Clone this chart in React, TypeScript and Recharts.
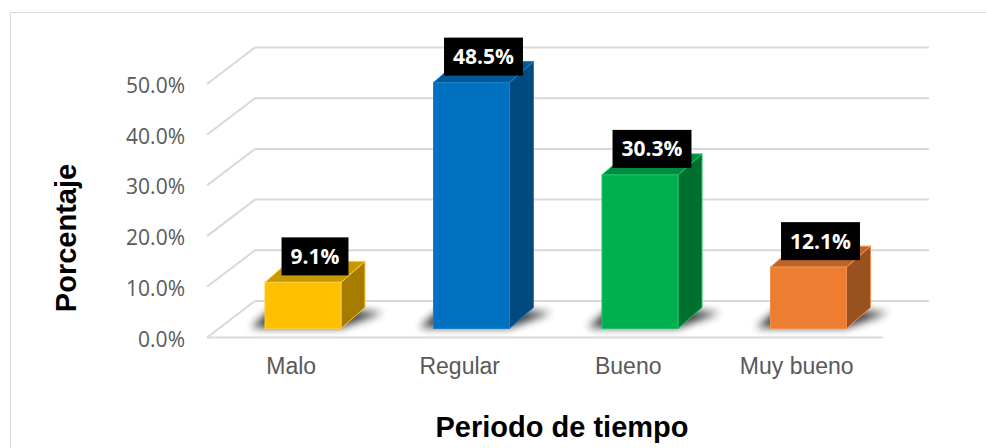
import { BarChart, Bar, XAxis, YAxis, CartesianGrid, LabelList, Customized } from 'recharts';

const categories = ['Malo', 'Regular', 'Bueno', 'Muy bueno'];
const porcentajes = [9.1, 48.5, 30.3, 12.1];
const yTicks = [0, 10, 20, 30, 40, 50];

const data = categories.map((c, i) => ({ periodo: c, valor: porcentajes[i] }));

// front / side / top shades per bar
const PALETTE = [
  { front: '#FFC000', side: '#A67C00', top: '#C99700', edge: '#FFCB33' },
  { front: '#0070C0', side: '#004A80', top: '#005A9A', edge: '#1A82CC' },
  { front: '#00B050', side: '#007030', top: '#008C40', edge: '#22C066' },
  { front: '#ED7D31', side: '#9A5120', top: '#BE6427', edge: '#F08F4E' },
];

const W = 986;
const H = 448;
const Y_AXIS_W = 40;
const X_AXIS_H = 40;
const MARGIN = { top: 75, right: 93, bottom: 119.5 - X_AXIS_H, left: 219 - Y_AXIS_W };
const PLOT_BOTTOM = H - 119.5;

// oblique offsets of the 3D box
const FRONT = { dx: -12, dy: 9 };
const BACK = { dx: 36, dy: -27.5 };
const DEPTH = { dx: 24, dy: 21 };

const measure = (txt: string, font: string) => {
  const ctx = document.createElement('canvas').getContext('2d');
  if (!ctx) return txt.length * 11;
  ctx.font = font;
  return ctx.measureText(txt).width;
};

const fmt = (v: number) => `${v.toFixed(1)}%`;

const GridLine3D = (props: any) => {
  const { x1, x2, y1 } = props;
  const fx = x1 + FRONT.dx;
  const fy = y1 + FRONT.dy;
  const bx = x1 + BACK.dx;
  const by = y1 + BACK.dy;
  const isFloor = Math.abs(y1 - PLOT_BOTTOM) < 1;
  return (
    <g key={props.key}>
      <polyline
        points={`${fx},${fy} ${bx},${by} ${x2 + BACK.dx},${by}`}
        fill="none"
        stroke="#D9D9D9"
        strokeWidth={2}
      />
      {isFloor && (
        <line x1={fx} y1={fy} x2={x2 - 10} y2={fy} stroke="#D9D9D9" strokeWidth={2} />
      )}
    </g>
  );
};

const Bar3D = (props: any) => {
  const { x, y, width: w, height: h, index } = props;
  const c = PALETTE[index % PALETTE.length];
  const base = y + h;
  const { dx, dy } = DEPTH;
  const shadow = `${x - 14},${base - 1} ${x + w},${base - 1} ${x + w + dx + 18},${base - dy + 5} ${x + dx - 14},${base - dy - 1}`;
  return (
    <g>
      <defs>
        <filter id={`blur-${index}`} x="-50%" y="-50%" width="200%" height="200%">
          <feGaussianBlur stdDeviation={4} />
        </filter>
      </defs>
      <polygon points={shadow} fill="#000" opacity={0.8} filter={`url(#blur-${index})`} />
      <polygon
        points={`${x + w},${y} ${x + w + dx},${y - dy} ${x + w + dx},${base - dy} ${x + w},${base}`}
        fill={c.side}
        stroke={c.edge}
        strokeWidth={1}
      />
      <polygon
        points={`${x},${y} ${x + dx},${y - dy} ${x + w + dx},${y - dy} ${x + w},${y}`}
        fill={c.top}
        stroke={c.edge}
        strokeWidth={1}
      />
      <rect x={x} y={y} width={w} height={h} fill={c.front} stroke={c.edge} strokeWidth={1} />
    </g>
  );
};

const ValueLabel = (props: any) => {
  const { x, y, width, value } = props;
  const txt = fmt(Number(value));
  const font = 'bold 21px "Open Sans"';
  const tw = measure(txt, font);
  const bw = tw + 18;
  const bh = 38;
  const cx = x + width / 2 + 12;
  const bottom = y - 7;
  return (
    <g>
      <rect x={cx - bw / 2} y={bottom - bh} width={bw} height={bh} fill="#000" />
      <text
        x={cx}
        y={bottom - bh / 2 + 7.5}
        textAnchor="middle"
        fill="#fff"
        fontFamily="Open Sans"
        fontWeight={700}
        fontSize={21}
      >
        {txt}
      </text>
    </g>
  );
};

const YTick = (props: any) => {
  const { y, payload } = props;
  return (
    <text x={185} y={y + 18} textAnchor="end" fill="#595959" fontFamily="Open Sans" fontSize={21}>
      {fmt(payload.value)}
    </text>
  );
};

const XTick = (props: any) => {
  const { x, payload } = props;
  return (
    <text
      x={x - 12}
      y={374}
      textAnchor="middle"
      fill="#595959"
      fontFamily="Liberation Sans, Arial, sans-serif"
      fontSize={23}
    >
      {payload.value}
    </text>
  );
};

const Titles = () => (
  <g fontFamily="Liberation Sans, Arial, sans-serif" fontWeight={700} fontSize={29} fill="#000">
    <text transform="translate(76, 238) rotate(-90)" textAnchor="middle">
      Porcentaje
    </text>
    <text x={562} y={437} textAnchor="middle">
      Periodo de tiempo
    </text>
  </g>
);

export default function App() {
  return (
    <div style={{ position: 'absolute', left: 0, top: 0, width: W, height: H, background: '#fff' }}>
      <div
        style={{
          position: 'absolute',
          left: 10,
          top: 12,
          width: W,
          height: H,
          border: '1px solid #D9D9D9',
          boxSizing: 'border-box',
        }}
      />
      <div style={{ position: 'absolute', left: 0, top: 0 }}>
        <BarChart width={W} height={H} data={data} margin={MARGIN}>
          <CartesianGrid vertical={false} horizontal={GridLine3D} />
          <XAxis
            dataKey="periodo"
            height={X_AXIS_H}
            axisLine={false}
            tickLine={false}
            interval={0}
            tick={<XTick />}
          />
          <YAxis
            type="number"
            domain={[0, 50]}
            ticks={yTicks}
            width={Y_AXIS_W}
            axisLine={false}
            tickLine={false}
            tick={<YTick />}
          />
          <Bar dataKey="valor" barSize={76} shape={<Bar3D />} isAnimationActive={false}>
            <LabelList dataKey="valor" content={<ValueLabel />} />
          </Bar>
          <Customized component={<Titles />} />
        </BarChart>
      </div>
    </div>
  );
}
